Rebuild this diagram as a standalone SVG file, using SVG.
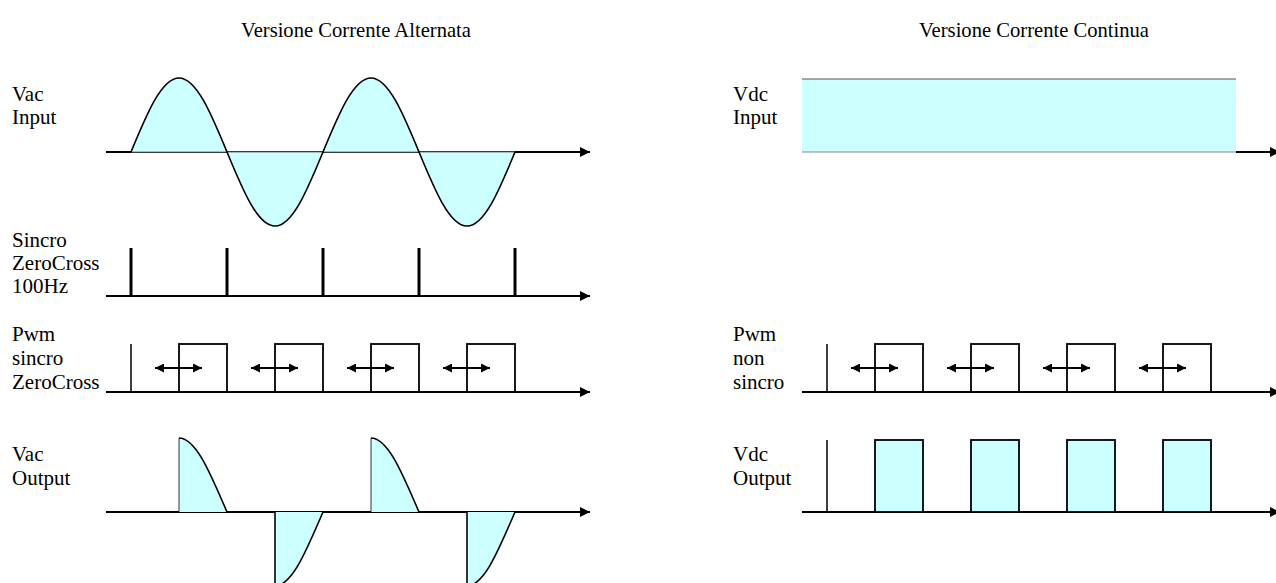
<svg xmlns="http://www.w3.org/2000/svg" width="1276" height="583" viewBox="0 0 1276 583">
<style>
text{font-family:"Liberation Serif","Times New Roman",serif;font-size:21px;fill:#000}
.title{text-anchor:middle;font-size:20.6px}
.axis{stroke:#000;stroke-width:2;fill:none}
.fillc{fill:#CCFFFF;stroke:none}
.wave{fill:none;stroke:#000;stroke-width:1.6}
.pulse{stroke:#000;stroke-width:3}
.thin{stroke:#000;stroke-width:1.5;fill:none}
.box{fill:none;stroke:#000;stroke-width:1.8}
.boxf{fill:#CCFFFF;stroke:#000;stroke-width:1.8}
.dbl{stroke:#000;stroke-width:2}
</style>
<defs>
<marker id="ah" viewBox="0 0 10 10" refX="10" refY="5" markerWidth="5" markerHeight="5" markerUnits="strokeWidth" orient="auto">
<path d="M0,0 L10,5 L0,10 Z" fill="#000"/>
</marker>
<marker id="dh" viewBox="0 0 10 10" refX="10" refY="5" markerWidth="5" markerHeight="4.5" markerUnits="strokeWidth" orient="auto-start-reverse">
<path d="M0,0 L10,5 L0,10 Z" fill="#000"/>
</marker>
</defs>

<g id="titles">
<text class="title" x="356" y="37">Versione Corrente Alternata</text>
<text class="title" x="1034" y="37">Versione Corrente Continua</text>
</g>

<g id="labels">
<text x="12" y="101">Vac</text>
<text x="12" y="124">Input</text>
<text x="12" y="247">Sincro</text>
<text x="12" y="270">ZeroCross</text>
<text x="12" y="293">100Hz</text>
<text x="12" y="341">Pwm</text>
<text x="12" y="365">sincro</text>
<text x="12" y="389">ZeroCross</text>
<text x="12" y="461">Vac</text>
<text x="12" y="485">Output</text>
<text x="733" y="101">Vdc</text>
<text x="733" y="124">Input</text>
<text x="733" y="341">Pwm</text>
<text x="733" y="365">non</text>
<text x="733" y="389">sincro</text>
<text x="733" y="461">Vdc</text>
<text x="733" y="485">Output</text>
</g>

<g id="connectors">
<line class="axis" x1="106" y1="152" x2="590" y2="152" marker-end="url(#ah)"/>
<line class="axis" x1="106" y1="296" x2="590" y2="296" marker-end="url(#ah)"/>
<line class="axis" x1="106" y1="392" x2="590" y2="392" marker-end="url(#ah)"/>
<line class="axis" x1="106" y1="512" x2="590" y2="512" marker-end="url(#ah)"/>
<line class="axis" x1="1236" y1="152" x2="1280" y2="152" marker-end="url(#ah)"/>
<line class="axis" x1="802" y1="392" x2="1280" y2="392" marker-end="url(#ah)"/>
<line class="axis" x1="802" y1="512" x2="1280" y2="512" marker-end="url(#ah)"/>
</g>

<g id="vac-input">
<path class="fillc" d="M131,152 C147.05,113.14 161.72,78 179,78 C196.28,78 210.95,113.14 227,152 C243.05,190.86 257.72,226 275,226 C292.28,226 306.95,190.86 323,152 C339.05,113.14 353.72,78 371,78 C388.28,78 402.95,113.14 419,152 C435.05,190.86 449.72,226 467,226 C484.28,226 498.95,190.86 515,152 Z"/>
<line x1="131" y1="152" x2="515" y2="152" stroke="#777" stroke-width="1.2"/>
<path class="wave" d="M131,152 C147.05,113.14 161.72,78 179,78 C196.28,78 210.95,113.14 227,152 C243.05,190.86 257.72,226 275,226 C292.28,226 306.95,190.86 323,152 C339.05,113.14 353.72,78 371,78 C388.28,78 402.95,113.14 419,152 C435.05,190.86 449.72,226 467,226 C484.28,226 498.95,190.86 515,152"/>
</g>

<g id="sincro-zerocross">
<line class="pulse" x1="131" y1="248" x2="131" y2="296"/>
<line class="pulse" x1="227" y1="248" x2="227" y2="296"/>
<line class="pulse" x1="323" y1="248" x2="323" y2="296"/>
<line class="pulse" x1="419" y1="248" x2="419" y2="296"/>
<line class="pulse" x1="515" y1="248" x2="515" y2="296"/>
</g>

<g id="pwm-sincro">
<line class="thin" x1="131" y1="344" x2="131" y2="392"/>
<rect class="box" x="179" y="344" width="48" height="48"/>
<rect class="box" x="275" y="344" width="48" height="48"/>
<rect class="box" x="371" y="344" width="48" height="48"/>
<rect class="box" x="467" y="344" width="48" height="48"/>
<line class="dbl" x1="155" y1="368" x2="202" y2="368" marker-start="url(#dh)" marker-end="url(#dh)"/>
<line class="dbl" x1="251" y1="368" x2="298" y2="368" marker-start="url(#dh)" marker-end="url(#dh)"/>
<line class="dbl" x1="347" y1="368" x2="394" y2="368" marker-start="url(#dh)" marker-end="url(#dh)"/>
<line class="dbl" x1="443" y1="368" x2="490" y2="368" marker-start="url(#dh)" marker-end="url(#dh)"/>
</g>

<g id="vac-output">
<path class="fillc" d="M179,512 L179,438 C196.28,438 210.95,475.14 227,512 Z"/>
<path class="fillc" d="M371,512 L371,438 C388.28,438 402.95,475.14 419,512 Z"/>
<path class="fillc" d="M275,512 L275,586 C292.28,586 306.95,548.86 323,512 Z"/>
<path class="fillc" d="M467,512 L467,586 C484.28,586 498.95,548.86 515,512 Z"/>
<line x1="179" y1="512" x2="179" y2="438" stroke="#333" stroke-width="1"/>
<line x1="371" y1="512" x2="371" y2="438" stroke="#333" stroke-width="1"/>
<line x1="275" y1="512" x2="275" y2="586" stroke="#000" stroke-width="1.6"/>
<line x1="467" y1="512" x2="467" y2="586" stroke="#000" stroke-width="1.6"/>
<path class="wave" d="M179,438 C196.28,438 210.95,475.14 227,512"/>
<path class="wave" d="M371,438 C388.28,438 402.95,475.14 419,512"/>
<path class="wave" d="M275,586 C292.28,586 306.95,548.86 323,512"/>
<path class="wave" d="M467,586 C484.28,586 498.95,548.86 515,512"/>
</g>

<g id="vdc-input">
<rect class="fillc" x="802" y="79" width="434" height="73"/>
<line x1="802" y1="79" x2="1236" y2="79" stroke="#555" stroke-width="1"/>
<line x1="802" y1="152" x2="1236" y2="152" stroke="#888" stroke-width="1.2"/>
</g>

<g id="pwm-non-sincro">
<line class="thin" x1="827" y1="344" x2="827" y2="392"/>
<rect class="box" x="875" y="344" width="48" height="48"/>
<rect class="box" x="971" y="344" width="48" height="48"/>
<rect class="box" x="1067" y="344" width="48" height="48"/>
<rect class="box" x="1163" y="344" width="48" height="48"/>
<line class="dbl" x1="851" y1="368" x2="898" y2="368" marker-start="url(#dh)" marker-end="url(#dh)"/>
<line class="dbl" x1="947" y1="368" x2="994" y2="368" marker-start="url(#dh)" marker-end="url(#dh)"/>
<line class="dbl" x1="1043" y1="368" x2="1090" y2="368" marker-start="url(#dh)" marker-end="url(#dh)"/>
<line class="dbl" x1="1139" y1="368" x2="1186" y2="368" marker-start="url(#dh)" marker-end="url(#dh)"/>
</g>

<g id="vdc-output">
<line class="thin" x1="827" y1="440" x2="827" y2="512"/>
<rect class="boxf" x="875" y="440" width="48" height="72"/>
<rect class="boxf" x="971" y="440" width="48" height="72"/>
<rect class="boxf" x="1067" y="440" width="48" height="72"/>
<rect class="boxf" x="1163" y="440" width="48" height="72"/>
</g>
</svg>
